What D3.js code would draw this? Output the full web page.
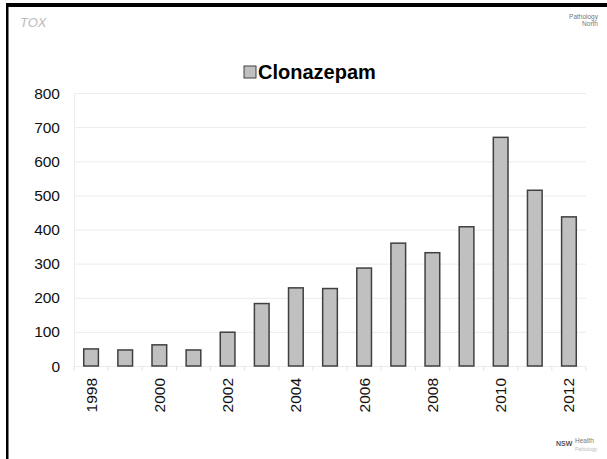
<!DOCTYPE html>
<meta charset="utf-8">
<script src="https://cdn.jsdelivr.net/npm/d3@7"></script>
<style>
body { margin: 0; background: #fff; }
text { font-family: "Liberation Sans", Arial, sans-serif; }
</style>
<body>
<script>
var width = 607, height = 459;

// data
var years = ["1998","1999","2000","2001","2002","2003","2004","2005","2006","2007","2008","2009","2010","2011","2012"];
var counts = [50, 47, 62, 47, 99, 183, 229, 227, 287, 360, 332, 408, 670, 515, 437];
var yTicks = [0, 100, 200, 300, 400, 500, 600, 700, 800];
var seriesName = "Clonazepam";

var margin = {left: 74, right: 21, top: 93, bottom: 93};

var svg = d3.select("body").append("svg")
    .attr("width", width)
    .attr("height", height);

// slide frame (top + left edges)
svg.append("rect").attr("x", 6).attr("y", 3).attr("width", width - 6).attr("height", 4).attr("fill", "#000");
svg.append("rect").attr("x", 6).attr("y", 3).attr("width", 2.5).attr("height", height - 3).attr("fill", "#000");

// logos as faint text
svg.append("text").attr("x", 20).attr("y", 27).attr("font-size", 13)
    .attr("font-family", "serif").attr("font-style", "italic").attr("fill", "#bbb").text("TOX");
svg.append("text").attr("x", 598).attr("y", 19).attr("text-anchor", "end").attr("font-size", 6.5).attr("fill", "#777").text("Pathology");
svg.append("text").attr("x", 598).attr("y", 26).attr("text-anchor", "end").attr("font-size", 6.5).attr("fill", "#777").text("North");
svg.append("text").attr("x", 556).attr("y", 446).attr("font-size", 7).attr("font-weight", "bold").attr("fill", "#555").text("NSW");
svg.append("text").attr("x", 575).attr("y", 443).attr("font-size", 6.5).attr("fill", "#777").text("Health");
svg.append("text").attr("x", 575).attr("y", 451).attr("font-size", 5).attr("fill", "#bbb").text("Pathology");

var x = d3.scaleBand()
    .domain(years)
    .range([margin.left, width - margin.right])
    .paddingInner(0.57)
    .paddingOuter(0.285);

var y = d3.scaleLinear()
    .domain([0, 800])
    .range([height - margin.bottom, margin.top]);

// gridlines
svg.append("g")
  .selectAll("line")
  .data(yTicks)
  .enter().append("line")
    .attr("x1", margin.left)
    .attr("x2", width - margin.right)
    .attr("y1", function(d) { return y(d) + 0.5; })
    .attr("y2", function(d) { return y(d) + 0.5; })
    .attr("stroke", "#ececec")
    .attr("stroke-width", 1);

// left plot edge
svg.append("line")
    .attr("x1", margin.left + 0.5).attr("x2", margin.left + 0.5)
    .attr("y1", y(800)).attr("y2", y(0))
    .attr("stroke", "#ececec");

// y axis labels
svg.append("g")
  .selectAll("text")
  .data(yTicks)
  .enter().append("text")
    .attr("x", 60)
    .attr("y", function(d) { return y(d) + 5.5; })
    .attr("text-anchor", "end")
    .attr("font-size", 15.5)
    .attr("fill", "#111")
    .text(function(d) { return d; });

// x category tick marks at boundaries
var step = x.step();
svg.append("g")
  .selectAll("line")
  .data(d3.range(years.length + 1))
  .enter().append("line")
    .attr("x1", function(i) { return margin.left + i * step; })
    .attr("x2", function(i) { return margin.left + i * step; })
    .attr("y1", y(0))
    .attr("y2", y(0) + 5)
    .attr("stroke", "#e4e4e4");

// bars
svg.append("g")
  .selectAll("rect")
  .data(years)
  .enter().append("rect")
    .attr("x", function(d) { return x(d); })
    .attr("y", function(d, i) { return y(counts[i]); })
    .attr("width", x.bandwidth())
    .attr("height", function(d, i) { return y(0) - y(counts[i]); })
    .attr("fill", "#c0c0c0")
    .attr("stroke", "#404040")
    .attr("stroke-width", 1.5);

// x labels, every other year, rotated
svg.append("g")
  .selectAll("text")
  .data(years.filter(function(d, i) { return i % 2 === 0; }))
  .enter().append("text")
    .attr("transform", function(d) {
      return "translate(" + (x(d) + x.bandwidth() / 2 + 5.5) + "," + 378 + ")rotate(-90)";
    })
    .attr("text-anchor", "end")
    .attr("font-size", 15.5)
    .attr("fill", "#111")
    .text(function(d) { return d; });

// legend / title
svg.append("rect")
    .attr("x", 244).attr("y", 66)
    .attr("width", 12).attr("height", 12)
    .attr("fill", "#c0c0c0")
    .attr("stroke", "#404040")
    .attr("stroke-width", 1);
svg.append("text")
    .attr("x", 258).attr("y", 79)
    .attr("font-size", 20)
    .attr("font-weight", "bold")
    .attr("fill", "#000")
    .text(seriesName);
</script>
</body>
</html>
